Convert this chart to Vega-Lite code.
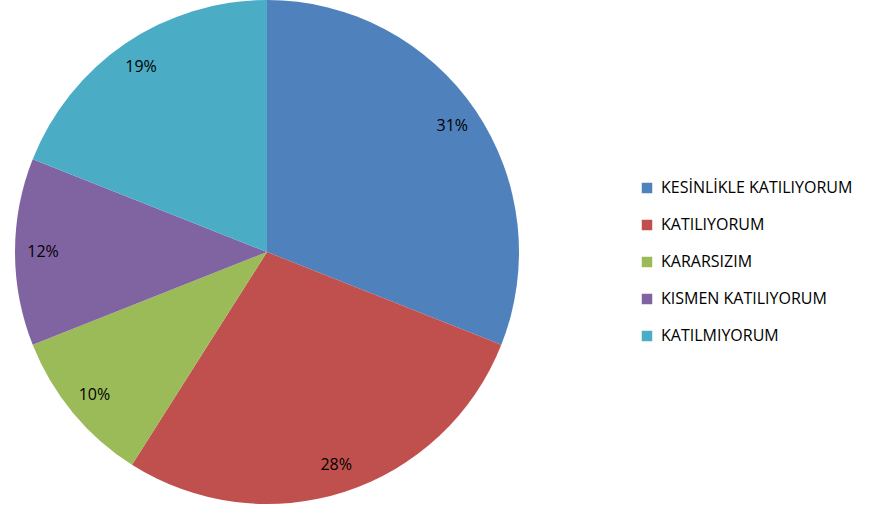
{
  "$schema": "https://vega.github.io/schema/vega-lite/v6.json",
  "width": 534,
  "height": 502,
  "padding": 0,
  "autosize": {"type": "pad"},
  "background": "white",
  "config": {"view": {"stroke": null}},
  "data": {
    "values": [
      {"idx": 1, "cat": "KESİNLİKLE KATILIYORUM", "pct": 31, "label": "31%"},
      {"idx": 2, "cat": "KATILIYORUM", "pct": 28, "label": "28%"},
      {"idx": 3, "cat": "KARARSIZIM", "pct": 10, "label": "10%"},
      {"idx": 4, "cat": "KISMEN KATILIYORUM", "pct": 12, "label": "12%"},
      {"idx": 5, "cat": "KATILMIYORUM", "pct": 19, "label": "19%"}
    ]
  },
  "encoding": {
    "theta": {"field": "pct", "type": "quantitative", "stack": true},
    "order": {"field": "idx", "type": "quantitative"},
    "color": {
      "field": "cat",
      "type": "nominal",
      "scale": {
        "domain": ["KESİNLİKLE KATILIYORUM", "KATILIYORUM", "KARARSIZIM", "KISMEN KATILIYORUM", "KATILMIYORUM"],
        "range": ["#4F81BD", "#C0504D", "#9BBB59", "#8064A2", "#4BACC6"]
      },
      "legend": {
        "orient": "none",
        "legendX": 639,
        "legendY": 179,
        "title": null,
        "symbolType": "square",
        "symbolSize": 110,
        "symbolStrokeWidth": 0,
        "labelFont": "Open Sans",
        "labelFontSize": 16,
        "labelColor": "#000000",
        "rowPadding": 21,
        "labelOffset": 6,
        "labelLimit": 300
      }
    }
  },
  "layer": [
    {
      "mark": {"type": "arc", "outerRadius": 252, "strokeWidth": 0}
    },
    {
      "mark": {"type": "text", "radius": 224, "font": "Open Sans", "fontSize": 16, "color": "#000000"},
      "encoding": {
        "text": {"field": "label", "type": "nominal"},
        "color": {"value": "#000000"}
      }
    }
  ]
}
